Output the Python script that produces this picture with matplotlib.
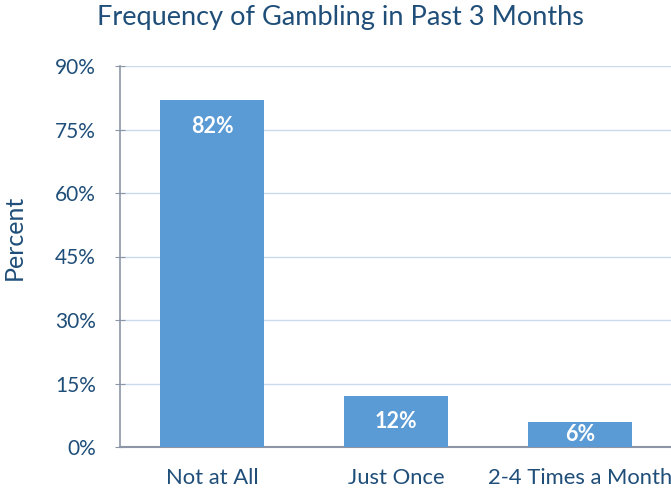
import numpy as np
import matplotlib
matplotlib.use("Agg")
import matplotlib.pyplot as plt

categories = ["Not at All", "Just Once", "2-4 Times a Month"]
percent = [82, 12, 6]
yticks = [0, 15, 30, 45, 60, 75, 90]

text_col = "#1F4E79"
bar_col = "#5B9BD5"

plt.rcParams['font.family'] = ['Lato', 'DejaVu Sans']

fig = plt.figure(figsize=(6.71, 4.88), dpi=100)
ax = fig.add_axes([120/671, (488-447)/488, 552/671, 381/488])

x = np.arange(len(categories))
bars = ax.bar(x, percent, width=0.565, color=bar_col, zorder=3)
for xi, v in zip(x, percent):
    ax.text(xi, max(v - 6.4, v / 2), f"{v}%", ha="center", va="center", color="white",
            fontsize=15.5, fontweight="bold", zorder=4)

ax.set_xlim(-0.5, len(categories) - 0.5)
ax.set_ylim(0, 90)
ax.set_yticks(yticks)
ax.set_yticklabels([f"{t}%" for t in yticks])
ax.set_xticks(x)
ax.set_xticklabels(categories)
ax.grid(axis="y", color="#C9DAEC", linewidth=1, zorder=0)
for s in ["top", "right"]:
    ax.spines[s].set_visible(False)
ax.spines["left"].set_color("#8C96A6")
ax.spines["bottom"].set_color("#8C96A6")
ax.spines["left"].set_linewidth(1.2)
ax.spines["bottom"].set_linewidth(1.5)
ax.tick_params(axis="y", direction="inout", length=7, color="#8C96A6",
               labelcolor=text_col, labelsize=15, pad=14)
ax.tick_params(axis="x", length=0, labelcolor=text_col, labelsize=15.8, pad=15)

fig.text(340/671, 1 - 17/488, "Frequency of Gambling in Past 3 Months",
         ha="center", va="center", color=text_col, fontsize=19.5)
fig.text(14/671, 1 - 237/488, "Percent", rotation=90, ha="center", va="center",
         color=text_col, fontsize=18)

fig.savefig("out.png", dpi=100)
